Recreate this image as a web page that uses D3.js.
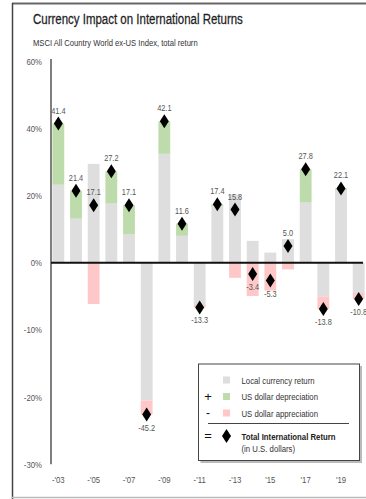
<!DOCTYPE html>
<html><head><meta charset="utf-8">
<script src="https://cdn.jsdelivr.net/npm/d3@7"></script>
<style>
html,body{margin:0;padding:0;background:#fff;}
svg text{font-family:"Liberation Sans",Arial,sans-serif;}
</style></head>
<body>
<svg id="c" width="366" height="499"></svg>
<script>
const years = [2003,2004,2005,2006,2007,2008,2009,2010,2011,2012,2013,2014,2015,2016,2017,2018,2019,2020];
const localReturn = [23.2,13.1,29.4,17.6,8.4,-41.0,32.4,8.0,-12.6,16.8,20.3,6.5,3.0,7.0,17.9,-10.0,21.5,-9.0];
const currencyEffect = [18.2,8.3,-12.3,9.6,8.7,-4.2,9.7,3.6,-0.7,0.6,-4.5,-9.9,-8.3,-2.0,9.9,-3.8,0.6,-1.8];
const totalReturn = [41.4,21.4,17.1,27.2,17.1,-45.2,42.1,11.6,-13.3,17.4,15.8,-3.4,-5.3,5.0,27.8,-13.8,22.1,-10.8];
const yTickValues = [60,40,20,0,-20,-40,-60];
const yTickLabels = ["60%","40%","20%","0%","-10%","-20%","-30%"];
const xTickYears = [2003,2005,2007,2009,2011,2013,2015,2017,2019];
const xTickLabels = ["-'03","-'05","-'07","-'09","-'11","-'13","'15","'17","'19"];
const legendItems = ["Local currency return","US dollar depreciation","US dollar appreciation"];

const C_GRAY="#dedede", C_GREEN="#bedcab", C_PINK="#ffc8c8";
const SX = 0.82;
const svg = d3.select("#c");

function narrow(sel){
  sel.each(function(){
    const t=d3.select(this);
    const x=+t.attr("x")||0, y=+t.attr("y")||0;
    t.attr("x",0).attr("y",0).attr("transform",`translate(${x},${y}) scale(${SX},1)`);
  });
  return sel;
}

// frame
svg.append("line").attr("x1",12).attr("x2",366).attr("y1",3.5).attr("y2",3.5).attr("stroke","#666").attr("stroke-width",2);
svg.append("line").attr("x1",12.5).attr("x2",12.5).attr("y1",3).attr("y2",499).attr("stroke","#444").attr("stroke-width",1.5);
svg.append("line").attr("x1",12).attr("x2",366).attr("y1",497.5).attr("y2",497.5).attr("stroke","#bbb").attr("stroke-width",1.5);

narrow(svg.append("text").attr("x",33).attr("y",24).attr("font-size",14).attr("fill","#222")
  .attr("stroke","#222").attr("stroke-width",0.25)
  .text("Currency Impact on International Returns"));
narrow(svg.append("text").attr("x",33).attr("y",46).attr("font-size",9.3).attr("fill","#333")
  .text("MSCI All Country World ex-US Index, total return"));

const y = d3.scaleLinear().domain([-60,60]).range([464.3,61.1]);
const x = d3.scaleBand().domain(years).range([49.5,367.5]).paddingInner(0.33).paddingOuter(0.165);

const data = years.map((yr,i)=>({yr,local:localReturn[i],cur:currencyEffect[i],total:totalReturn[i]}));

// bars
const g = svg.append("g");
g.selectAll("rect.local").data(data).join("rect").attr("class","local")
  .attr("x",d=>x(d.yr)).attr("width",x.bandwidth())
  .attr("y",d=>y(Math.max(0,d.local))).attr("height",d=>Math.abs(y(d.local)-y(0)))
  .attr("fill",C_GRAY);
function curRange(d){
  if (d.cur>=0) { const b = Math.max(0,d.local); return [b, b+d.cur]; }
  const b = Math.min(0,d.local); return [b, b+d.cur];
}
g.selectAll("rect.cur").data(data).join("rect").attr("class","cur")
  .attr("x",d=>x(d.yr)).attr("width",x.bandwidth())
  .attr("y",d=>{const r=curRange(d);return y(Math.max(r[0],r[1]));})
  .attr("height",d=>{const r=curRange(d);return Math.abs(y(r[0])-y(r[1]));})
  .attr("fill",d=>d.cur>=0?C_GREEN:C_PINK);

// y axis
svg.append("line").attr("x1",51).attr("x2",51).attr("y1",y(60)-2).attr("y2",y(-60)).attr("stroke","#555").attr("stroke-width",1.5);
const yAxis = d3.axisLeft(y).tickValues(yTickValues).tickFormat((d,i)=>yTickLabels[i]).tickSize(0).tickPadding(0);
const ya = svg.append("g").attr("transform","translate(42,0)").call(yAxis);
ya.select(".domain").remove();
ya.selectAll("text").attr("font-size",9.5).attr("fill","#555").attr("font-family","Liberation Sans, Arial, sans-serif");
narrow(ya.selectAll("text"));

// zero line
svg.append("line").attr("x1",51).attr("x2",363).attr("y1",y(0)).attr("y2",y(0)).attr("stroke","#111").attr("stroke-width",2);

// x axis
const xAxis = d3.axisBottom(x).tickValues(xTickYears).tickFormat(d=>xTickLabels[xTickYears.indexOf(d)]).tickSize(0).tickPadding(0);
const xa = svg.append("g").attr("transform","translate(0,476)").call(xAxis);
xa.select(".domain").remove();
xa.selectAll("text").attr("font-size",9.5).attr("fill","#555").attr("font-family","Liberation Sans, Arial, sans-serif");
narrow(xa.selectAll("text"));

// diamonds
const dia = "M0,-7L4.5,0L0,7L-4.5,0Z";
svg.selectAll("path.dia").data(data).join("path").attr("class","dia")
  .attr("d",dia).attr("transform",d=>`translate(${x(d.yr)+x.bandwidth()/2},${y(d.total)})`).attr("fill","#000");
narrow(svg.selectAll("text.val").data(data).join("text").attr("class","val")
  .attr("x",d=>x(d.yr)+x.bandwidth()/2)
  .attr("y",d=>d.total>=0?y(d.total)-10:y(d.total)+16)
  .attr("text-anchor","middle").attr("font-size",9).attr("fill","#555")
  .text(d=>d.total.toFixed(1)));

// legend
const L = svg.append("g");
L.append("rect").attr("x",200.5).attr("y",366).attr("width",161.5).attr("height",97).attr("fill","#bbb");
L.append("rect").attr("x",198.5).attr("y",364).attr("width",161).attr("height",96.5).attr("fill","#fff").attr("stroke","#444").attr("stroke-width",1);
const colors=[C_GRAY,C_GREEN,C_PINK], signs=["","+","-"], ly=[380,396.5,413];
legendItems.forEach((t,i)=>{
  L.append("rect").attr("x",223).attr("y",ly[i]-3.5).attr("width",7).attr("height",7).attr("fill",colors[i]);
  narrow(L.append("text").attr("x",241.5).attr("y",ly[i]+3.5).attr("font-size",9.5).attr("fill","#333").text(t));
  if(signs[i]) L.append("text").attr("x",208).attr("y",ly[i]+4).attr("text-anchor","middle").attr("font-size",i==1?13:12).attr("fill","#111").text(signs[i]);
});
L.append("line").attr("x1",208).attr("x2",349).attr("y1",423.5).attr("y2",423.5).attr("stroke","#444").attr("stroke-width",1);
L.append("text").attr("x",208).attr("y",440).attr("text-anchor","middle").attr("font-size",13).attr("fill","#111").text("=");
L.append("path").attr("d",dia).attr("transform","translate(226.5,436)").attr("fill","#000");
narrow(L.append("text").attr("x",241.5).attr("y",439.5).attr("font-size",9.5).attr("font-weight","bold").attr("fill","#222").text("Total International Return"));
narrow(L.append("text").attr("x",241.5).attr("y",451.5).attr("font-size",9.5).attr("fill","#333").text("(in U.S. dollars)"));
</script>
</body></html>
